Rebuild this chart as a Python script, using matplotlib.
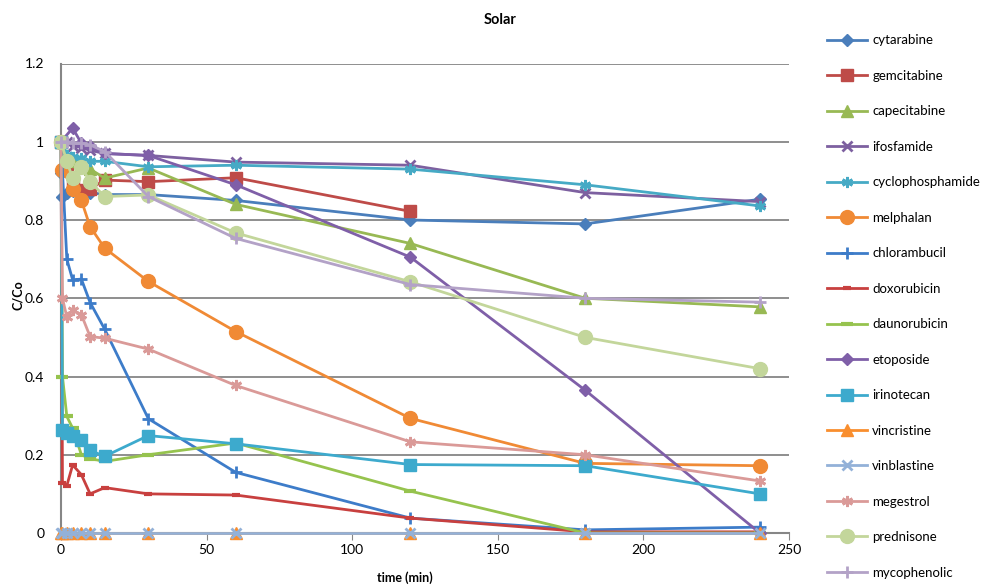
import numpy as np
import matplotlib
matplotlib.use("Agg")
import matplotlib.pyplot as plt

plt.rcParams['font.family'] = ['Lato', 'DejaVu Sans']

nan = np.nan
time_min = [0, 0.5, 2, 4, 7, 10, 15, 30, 60, 120, 180, 240]

drugs = ["cytarabine", "gemcitabine", "capecitabine", "ifosfamide", "cyclophosphamide",
         "melphalan", "chlorambucil", "doxorubicin", "daunorubicin", "etoposide",
         "irinotecan", "vincristine", "vinblastine", "megestrol", "prednisone", "mycophenolic"]

cytarabine       = [0.92, 0.86, 0.87, 0.875, 0.872, 0.87, 0.865, 0.865, 0.85, 0.80, 0.79, 0.853]
gemcitabine      = [1.0, nan, 0.93, 0.885, 0.877, 0.88, 0.902, 0.898, 0.908, 0.822, nan, nan]
capecitabine     = [1.0, nan, 0.96, 0.95, 0.94, 0.93, 0.907, 0.933, 0.84, 0.74, 0.60, 0.578]
ifosfamide       = [1.0, nan, 1.0, 0.99, 0.985, 0.978, 0.97, 0.965, 0.948, 0.94, 0.87, 0.847]
cyclophosphamide = [1.0, nan, 0.966, 0.96, 0.958, 0.95, 0.95, 0.936, 0.94, 0.93, 0.89, 0.836]
melphalan        = [1.0, 0.928, nan, 0.88, 0.85, 0.783, 0.728, 0.643, 0.515, 0.293, 0.178, 0.172]
chlorambucil     = [1.0, nan, 0.70, 0.647, 0.649, 0.589, 0.521, 0.292, 0.155, 0.038, 0.008, 0.015]
doxorubicin      = [1.0, 0.128, 0.121, 0.174, 0.149, 0.10, 0.116, 0.10, 0.097, 0.038, 0.003, 0.003]
daunorubicin     = [1.0, 0.40, 0.298, 0.268, 0.20, 0.19, 0.183, 0.20, 0.23, 0.107, 0.0, 0.0]
etoposide        = [1.0, nan, nan, 1.035, 0.996, 0.988, 0.97, 0.965, 0.89, 0.705, 0.365, 0.0]
irinotecan       = [1.0, 0.264, 0.255, 0.247, 0.238, 0.211, 0.196, 0.249, 0.228, 0.175, 0.172, 0.10]
vincristine      = [0.0, 0.0, 0.0, 0.0, 0.0, 0.0, 0.0, 0.0, 0.0, 0.0, 0.0, 0.0]
vinblastine      = [0.0, 0.0, 0.0, 0.0, 0.0, 0.0, 0.0, 0.0, 0.0, 0.0, 0.0, 0.0]
megestrol        = [1.0, 0.60, 0.552, 0.57, 0.558, 0.502, 0.498, 0.47, 0.377, 0.233, 0.20, 0.133]
prednisone       = [1.0, nan, 0.95, 0.907, 0.936, 0.898, 0.86, 0.864, 0.767, 0.642, 0.50, 0.42]
mycophenolic     = [1.0, nan, 1.0, 0.998, 0.996, 0.992, 0.975, 0.86, 0.753, 0.635, 0.60, 0.59]

series = [cytarabine, gemcitabine, capecitabine, ifosfamide, cyclophosphamide, melphalan,
          chlorambucil, doxorubicin, daunorubicin, etoposide, irinotecan, vincristine,
          vinblastine, megestrol, prednisone, mycophenolic]

x_ticks = [0, 50, 100, 150, 200, 250]
y_ticks = [0, 0.2, 0.4, 0.6, 0.8, 1.0, 1.2]
y_ticklabels = ["0", "0.2", "0.4", "0.6", "0.8", "1", "1.2"]

asterisk = (6, 2, 0)
styles = [
    dict(color='#4A7EBB', marker='D', ms=6.5),
    dict(color='#BE4B48', marker='s', ms=9),
    dict(color='#98B954', marker='^', ms=8.5),
    dict(color='#7D60A0', marker='x', ms=7, mew=2),
    dict(color='#46AAC5', marker=asterisk, ms=8, mew=2),
    dict(color='#F08A35', marker='o', ms=10),
    dict(color='#3D7CC9', marker='+', ms=9, mew=2),
    dict(color='#C8403F', marker='_', ms=6, mew=3),
    dict(color='#96C34E', marker='_', ms=9, mew=3),
    dict(color='#7F5FA8', marker='D', ms=6.5),
    dict(color='#3DAACD', marker='s', ms=9),
    dict(color='#F98E2E', marker='^', ms=8.5),
    dict(color='#93B1D8', marker='x', ms=7, mew=2),
    dict(color='#DA9A98', marker=asterisk, ms=8, mew=2),
    dict(color='#C3D69B', marker='o', ms=10),
    dict(color='#B3A2C7', marker='+', ms=9, mew=2),
]

fig = plt.figure(figsize=(9.85, 5.85), dpi=100)
ax = fig.add_axes([61 / 985, 52 / 585, 728 / 985, 469.5 / 585])

t = np.array(time_min, dtype=float)
for name, vals, st in zip(drugs, series, styles):
    v = np.array(vals, dtype=float)
    m = ~np.isnan(v)
    st = dict(st)
    c = st.pop('color')
    ax.plot(t[m], v[m], color=c, lw=2, markerfacecolor=c, markeredgecolor=c,
            label=name, clip_on=False, zorder=3, **st)

ax.set_xlim(0, 250)
ax.set_ylim(0, 1.2)
ax.set_xticks(x_ticks)
ax.set_yticks(y_ticks)
ax.set_yticklabels(y_ticklabels)
ax.grid(axis='y', color='#868686', lw=1.3)
ax.set_axisbelow(True)
for s in ['top', 'right']:
    ax.spines[s].set_visible(False)
for s in ['left', 'bottom']:
    ax.spines[s].set_color('#868686')
    ax.spines[s].set_linewidth(1.5)
ax.tick_params(axis='x', direction='out', length=5, color='#868686', labelsize=10, pad=3)
ax.tick_params(axis='y', length=0, labelsize=10, pad=12)

fig.text(0.508, 0.965, "Solar", ha='center', va='center', fontsize=10.5, fontweight='bold')
fig.text(405 / 985, 1 - 578 / 585, "time (min)", ha='center', va='center', fontsize=9, fontweight='bold')
fig.text(18 / 985, 1 - 295 / 585, "C/Co", ha='center', va='center', rotation=90,
         fontsize=9, fontweight='bold')

leg = fig.legend(loc='upper left', bbox_to_anchor=(822 / 985, 1 - 29 / 585), frameon=False,
                 fontsize=9.5, labelspacing=1.78, handlelength=3.0, handletextpad=0.4,
                 borderaxespad=0)

fig.savefig("out.png", dpi=100)
